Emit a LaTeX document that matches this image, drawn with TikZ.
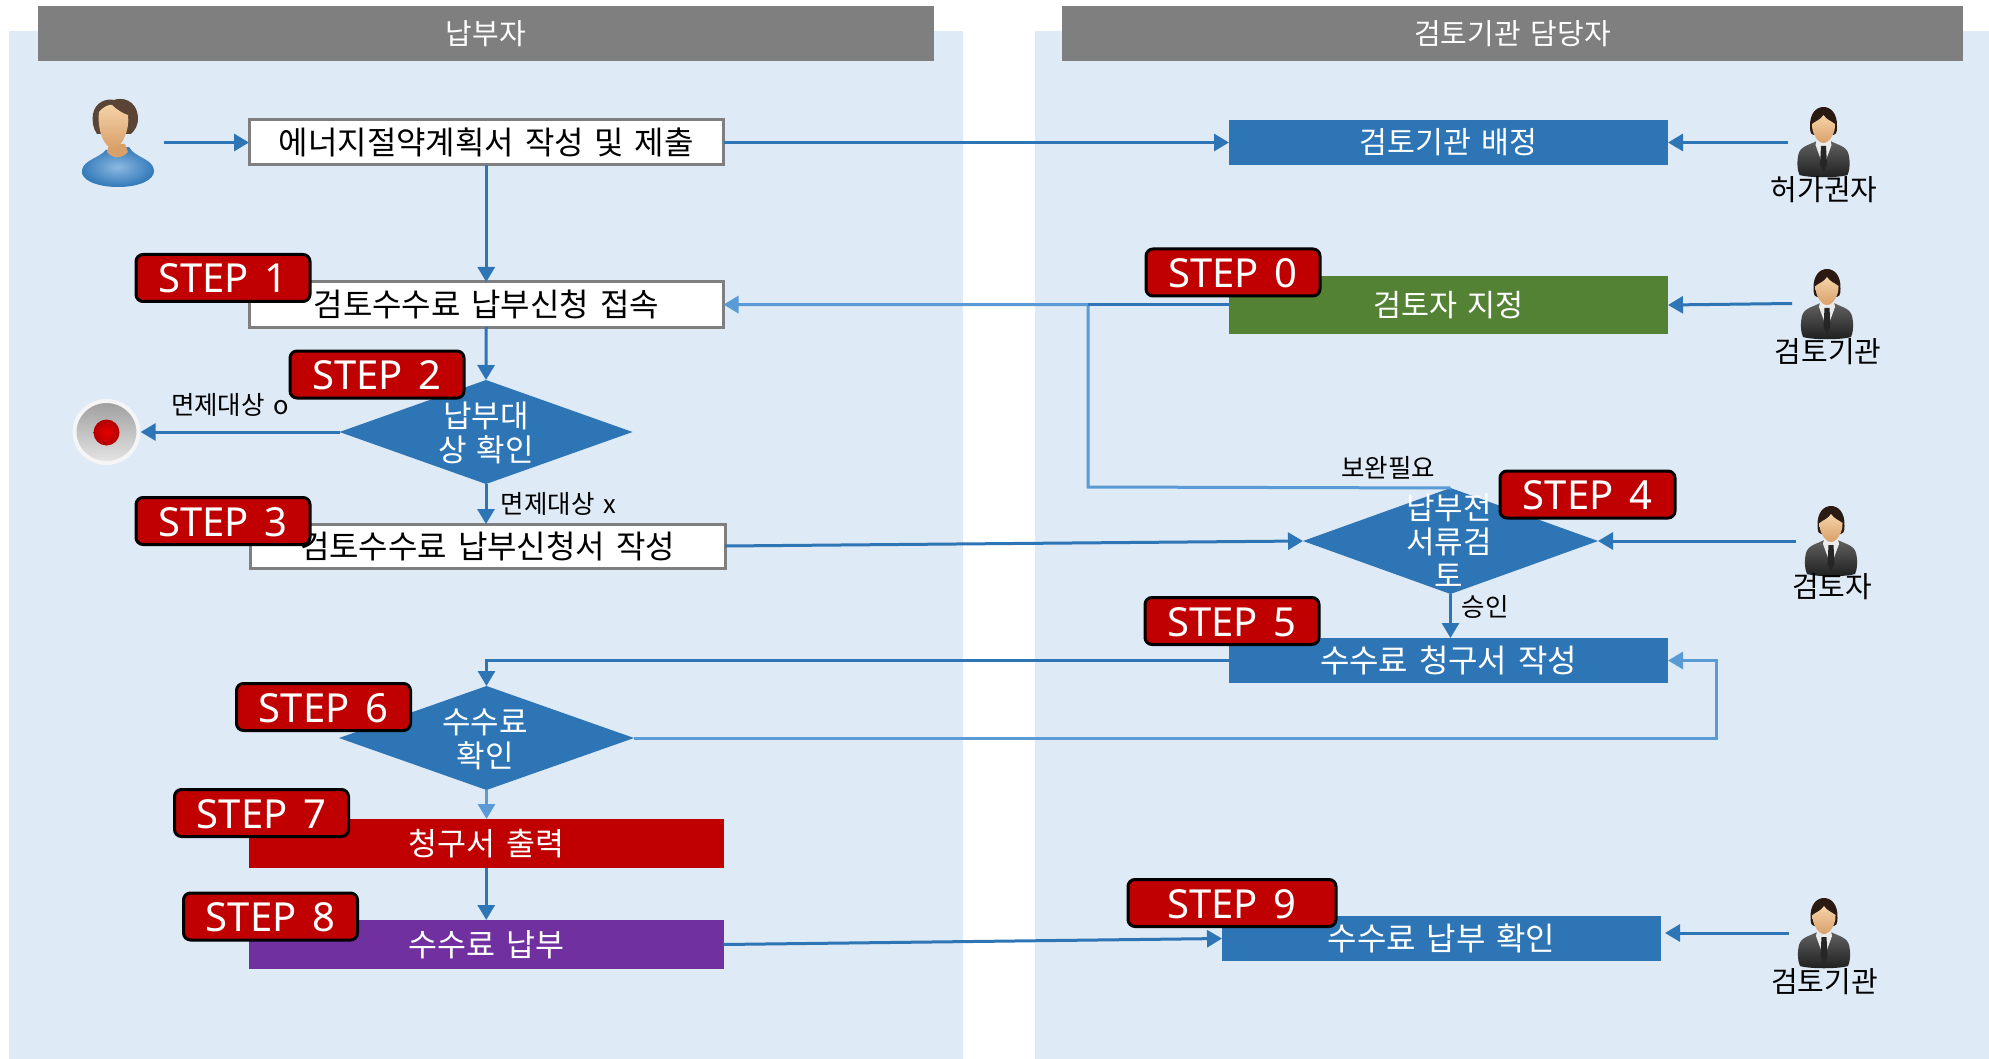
\documentclass[tikz,border=0pt]{standalone}
\usepackage{fontspec}
\setmainfont[WordSpace=1.5]{Noto Sans CJK KR}
\newfontfamily\stepfont[WordSpace=1.5]{Noto Sans}
\usetikzlibrary{arrows.meta,shapes.geometric,calc}
\definecolor{panelc}{HTML}{DEEAF6}
\definecolor{headc}{HTML}{7F7F7F}
\definecolor{bluec}{HTML}{2E75B6}
\definecolor{lightc}{HTML}{5B9BD5}
\definecolor{greenc}{HTML}{548235}
\definecolor{redc}{HTML}{C00000}
\definecolor{purplec}{HTML}{7030A0}
\definecolor{skinl}{HTML}{F5D3A8}
\definecolor{skind}{HTML}{D9A06A}
\definecolor{hairs}{HTML}{2A1A12}
\definecolor{hairu}{HTML}{5A4436}
\tikzset{
  header/.style={fill=headc,draw=none,text=white,inner sep=0pt,outer sep=0pt,font=\fontsize{29}{34}\selectfont},
  plainbox/.style={fill=white,draw=headc,line width=3pt,inner sep=0pt,outer sep=0pt,text=black,font=\fontsize{32}{36}\selectfont},
  solidbox/.style={draw=none,inner sep=0pt,outer sep=0pt,text=white,font=\fontsize{32}{36}\selectfont},
  decision/.style={shape=diamond,fill=bluec,draw=none,inner sep=0pt,outer sep=0pt},
  dtext/.style={text=white,inner sep=0pt,align=center,font=\fontsize{31}{34}\selectfont},
  badge/.style={fill=redc,draw=black,line width=3pt,rounded corners=7pt,inner sep=0pt,outer sep=0pt,text=white,font=\stepfont\fontsize{40}{44}\selectfont},
  lab/.style={text=black,inner sep=0pt,font=\fontsize{25.5}{30}\selectfont},
  roleb/.style={text=black,inner sep=0pt,font=\fontsize{29}{32}\selectfont},
  darkln/.style={draw=bluec,line width=3pt},
  lightln/.style={draw=lightc,line width=3pt},
  tip/.style={-{Triangle[length=15pt,width=17pt]}},
}
\newcommand{\steplabel}[1]{\raisebox{-15pt}[0pt][0pt]{#1}}
\newcommand{\suitman}[2]{%
  \begin{scope}[shift={(#1,#2)}]
    \shade[top color=black!62,bottom color=black!88] (-7,34) .. controls (-14,38) and (-23,39) .. (-25,47) .. controls (-27,55) and (-26,64) .. (-24,68) .. controls (-14,71) and (14,71) .. (24,68) .. controls (26,64) and (27,55) .. (25,47) .. controls (23,39) and (14,38) .. (7,34) -- cycle;
    \fill[black!8] (-7,33) -- (7,33) -- (8,38) -- (0,60) -- (-8,38) -- cycle;
    \fill[black!85] (-2.5,39) -- (2.5,39) -- (3.5,58) -- (0,65) -- (-3.5,58) -- cycle;
    \fill[hairs] (-13.5,20) .. controls (-14,6) and (-7,0) .. (0,0) .. controls (7,0) and (14,6) .. (13.5,20) .. controls (13.5,26) and (12,28) .. (10,28) -- (-10,28) .. controls (-12,28) and (-13.5,26) .. (-13.5,20) -- cycle;
    \shade[top color=skinl,bottom color=skind] (-11.5,17) .. controls (-8,14) and (-3,13) .. (0,8) .. controls (3,13) and (8,14) .. (11.5,17) .. controls (12,26) and (6,36) .. (0,36) .. controls (-6,36) and (-12,26) .. (-11.5,17) -- cycle;
  \end{scope}}
\newcommand{\userman}[2]{%
  \begin{scope}[shift={(#1,#2)}]
    \shade[inner color=lightc!70!white,outer color=bluec!90!lightc] (-35,72) .. controls (-33,62) and (-18,60) .. (-11,52) -- (12,49) .. controls (18,60) and (35,60) .. (37,72) .. controls (38,82) and (22,89) .. (1,89) .. controls (-20,89) and (-37,82) .. (-35,72) -- cycle;
    \fill[skind] (-8,46) -- (8,46) -- (11,54) .. controls (5,61) and (-5,61) .. (-10,54) -- cycle;
    \fill[hairu] (-24,16) .. controls (-22,4) and (-10,0) .. (-3,2) .. controls (4,-1) and (20,1) .. (21,20) .. controls (21,28) and (18,32) .. (14,36) -- (-20,36) .. controls (-24,30) and (-25,24) .. (-24,16) -- cycle;
    \shade[top color=skinl,bottom color=skind] (-18,14) .. controls (-14,9) and (-8,6) .. (-5,7) .. controls (0,12) and (7,16) .. (11,17) .. controls (13,30) and (6,50) .. (-4,50) .. controls (-13,50) and (-20,32) .. (-18,14) -- cycle;
  \end{scope}}
\begin{document}
\begin{tikzpicture}[x=1pt,y=-1pt]
\useasboundingbox (0,0) rectangle (1989,1059);
% panels and headers
\fill[panelc] (9,31) rectangle (963,1059);
\fill[panelc] (1035,31) rectangle (1989,1059);
\node[header,minimum width=896pt,minimum height=55pt] (h1) at (486,33.5) {납부자};
\node[header,minimum width=901pt,minimum height=55pt] (h2) at (1512.5,33.5) {검토기관 담당자};
% actors
\userman{117}{98}
\suitman{1823.5}{107}
\suitman{1827}{269}
\suitman{1831}{506}
\suitman{1824}{898}
\coordinate (u0) at (164,142.5);
\coordinate (p1) at (1788,142.5);
\coordinate (p2) at (1792,303.5);
\coordinate (p3) at (1796,541);
\coordinate (p4) at (1789,933);
% stop icon
\shade[top color=black!38,bottom color=black!10,draw=black!4,line width=4pt] (106.5,432) ellipse [x radius=32pt,y radius=31pt];
\shade[inner color=red!90!black,outer color=red!70!black] (106.5,432.5) circle (13pt);
\node[inner sep=0pt,minimum size=68pt,circle] (stop) at (106.5,432) {};
% process boxes
\node[plainbox,minimum width=474.5pt,minimum height=45pt] (b0) at (486.25,142.5) {에너지절약계획서 작성 및 제출};
\node[plainbox,minimum width=474.5pt,minimum height=45pt] (b1) at (486.25,304.5) {검토수수료 납부신청 접속};
\node[plainbox,minimum width=475pt,minimum height=44pt] (b3) at (487.5,546) {검토수수료 납부신청서 작성};
\node[solidbox,font=\fontsize{31.5}{36}\selectfont,fill=redc,minimum width=474.5pt,minimum height=49pt] (b7) at (486.25,843.5) {청구서 출력};
\node[solidbox,font=\fontsize{31.5}{36}\selectfont,fill=purplec,minimum width=474.5pt,minimum height=49pt] (b8) at (486.25,944.5) {수수료 납부};
\node[solidbox,font=\fontsize{30.3}{36}\selectfont,fill=bluec,minimum width=439pt,minimum height=45pt] (ba) at (1448.5,142.5) {검토기관 배정};
\node[solidbox,font=\fontsize{30.5}{36}\selectfont,fill=greenc,minimum width=439pt,minimum height=57pt] (b0r) at (1448.5,305) {검토자 지정};
\node[solidbox,fill=bluec,minimum width=439pt,minimum height=45pt] (b5) at (1448.5,660.5) {수수료 청구서 작성};
\node[solidbox,fill=bluec,minimum width=439pt,minimum height=45pt] (b9) at (1441.5,938.5) {수수료 납부 확인};
% decisions
\node[decision,shape aspect=2.82,minimum width=293pt,minimum height=104pt] (s2) at (486,432) {};
\node[decision,shape aspect=2.78,minimum width=295pt,minimum height=106pt] (s4) at (1450.5,541) {};
\node[decision,shape aspect=2.84,minimum width=295pt,minimum height=104pt] (s6) at (486.5,738) {};
\node[dtext] (s2t) at (486,433) {납부대\\상 확인};
\node[dtext] (s4t) at (1449,541) {납부전\\서류검\\토};
\node[dtext] (s6t) at (485,739.5) {수수료\\확인};
% connectors
\coordinate (j0) at (1088,304.6);
\coordinate (j1) at (1088,487);
\coordinate (j2) at (1716,738);
\draw[darkln,tip] (u0) -- (b0.west);
\draw[darkln,tip] (b0.east) -- (ba.west);
\draw[darkln,tip] (p1) -- (ba.east);
\draw[darkln,tip] (b0.south) -- (b1.north);
\draw[darkln,tip] (b1.south) -- (s2.north);
\draw[darkln,tip] (s2.west) -- (stop.east);
\draw[darkln,tip] (s2.south) -- (s2.south |- b3.north);
\draw[darkln,tip] (b3.east) -- (s4.west);
\draw[lightln,tip] (s4.north) -- (j1) -- (j0) -- (j0 -| b1.east);
\draw[darkln] (b0r.west |- j0) -- (j0);
\draw[darkln,tip] (p2) -- (b0r.east);
\draw[darkln,tip] (p3) -- (s4.east);
\draw[darkln,tip] (s4.south) -- (s4.south |- b5.north);
\draw[darkln,tip] (b5.west) -| (s6.north);
\draw[lightln,tip] (s6.east) -- (j2) |- (b5.east);
\draw[lightln,tip] (s6.south) -- (s6.south |- b7.north);
\draw[darkln,tip] (b7.south) -- (b8.north);
\draw[darkln,tip] (b8.east) -- (b9.west);
\draw[darkln,tip] (p4) -- ([xshift=4pt]p4 -| b9.east);
% labels
\node[lab] (l1) at (230,405) {면제대상 o};
\node[lab] (l2) at (558.5,504) {면제대상 x};
\node[lab] (l3) at (1388,468) {보완필요};
\node[lab] (l4) at (1485,607) {승인};
\node[roleb] (r1) at (1824,190) {허가권자};
\node[roleb] (r2) at (1828,352) {검토기관};
\node[roleb] (r3) at (1832,587) {검토자};
\node[roleb] (r4) at (1824.5,982) {검토기관};
% step badges
\node[badge,minimum width=174pt,minimum height=47pt] (st0) at (1233,272.5) {\steplabel{STEP 0}};
\node[badge,minimum width=174pt,minimum height=47pt] (st1) at (223,278) {\steplabel{STEP 1}};
\node[badge,minimum width=174pt,minimum height=47pt] (st2) at (377,374.5) {\steplabel{STEP 2}};
\node[badge,minimum width=174pt,minimum height=47pt] (st3) at (223,521) {\steplabel{STEP 3}};
\node[badge,minimum width=175pt,minimum height=47pt] (st4) at (1587.5,494.5) {\steplabel{STEP 4}};
\node[badge,minimum width=174pt,minimum height=47pt] (st5) at (1232,621) {\steplabel{STEP 5}};
\node[badge,minimum width=174pt,minimum height=47pt] (st6) at (323.5,707) {\steplabel{STEP 6}};
\node[badge,minimum width=174pt,minimum height=47pt] (st7) at (261.5,813) {\steplabel{STEP 7}};
\node[badge,minimum width=174pt,minimum height=47pt] (st8) at (270.5,916.5) {\steplabel{STEP 8}};
\node[badge,minimum width=208pt,minimum height=47pt] (st9) at (1232,903) {\steplabel{STEP 9}};
\end{tikzpicture}
\end{document}
